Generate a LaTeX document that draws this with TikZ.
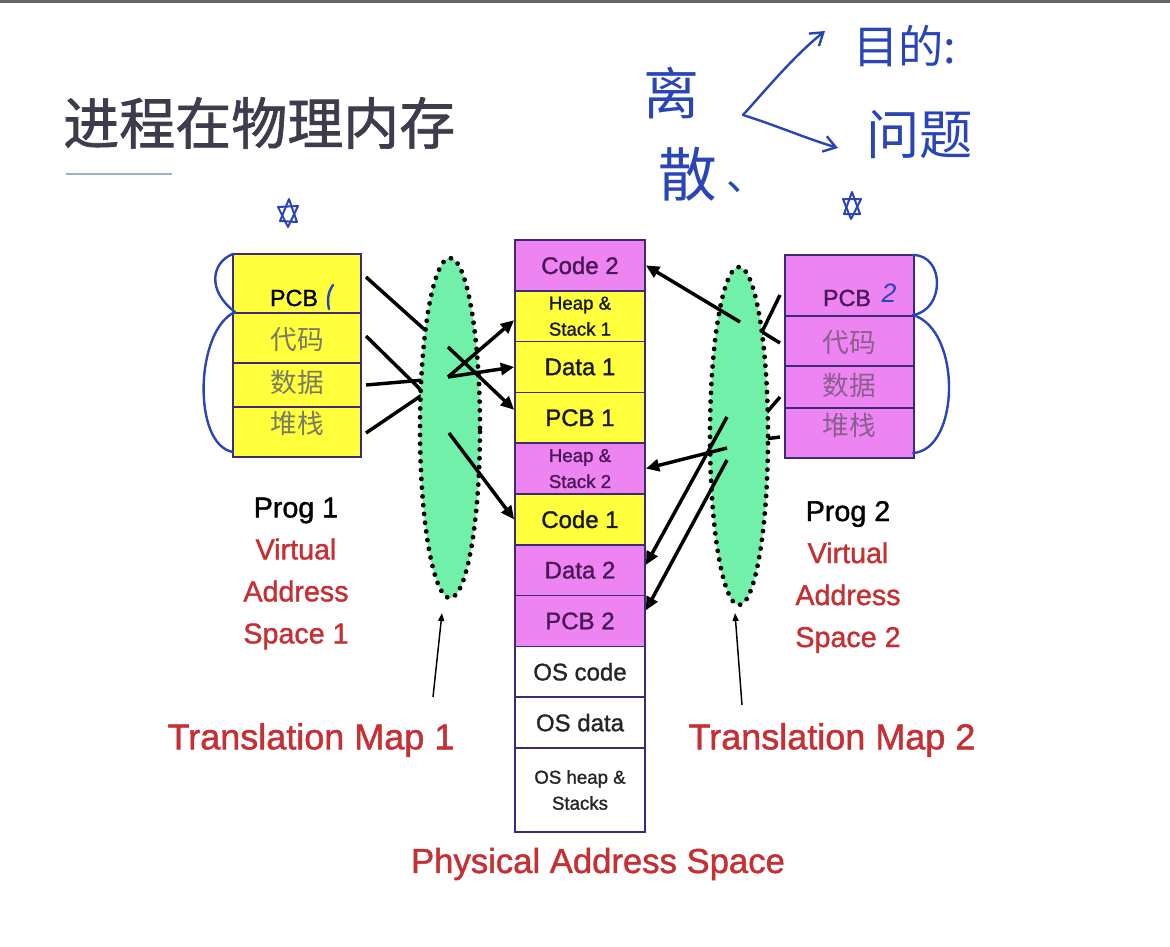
\documentclass[tikz,border=0pt]{standalone}
\usepackage{fontspec}
\setmainfont{Liberation Sans}
\newfontfamily\labfont[FakeBold=1.3]{Liberation Sans}
\newfontfamily\cjk{Noto Sans CJK SC}
\newfontfamily\cjkt[FakeBold=1.2]{Noto Sans CJK SC}
\usetikzlibrary{arrows.meta,shapes.geometric}
\definecolor{yel}{HTML}{FFFF3C}
\definecolor{mag}{HTML}{EE84F2}
\definecolor{bord}{HTML}{3C2A78}
\definecolor{redt}{HTML}{C62F33}
\definecolor{grn}{HTML}{70F0A8}
\definecolor{pen}{HTML}{2A45B8}
\definecolor{magtxt}{HTML}{4A1858}
\definecolor{titlec}{HTML}{3C3C4C}
\definecolor{ygray}{HTML}{7A7A62}
\definecolor{mgray}{HTML}{8A5E90}
\tikzset{
  cell/.style={draw=bord, line width=1.3pt, minimum width=97.5pt, minimum height=38.1pt,
    inner sep=0pt, align=center, font=\labfont\fontsize{18}{20}\selectfont},
  ycell/.style={cell, fill=yel, text=black!90},
  mcell/.style={cell, fill=mag, text=magtxt},
  wcell/.style={cell, fill=white, text=black!85},
  smalltxt/.style={font=\labfont\fontsize{14}{19.5}\selectfont},
  vbox/.style={draw=bord, line width=1.3pt, minimum width=96pt, inner sep=0pt},
  pcbtxt/.style={font=\labfont\fontsize{17.5}{20}\selectfont, inner sep=0pt},
  cntxt/.style={font=\cjk\fontsize{20}{22}\selectfont, inner sep=0pt},
  plabel/.style={align=center, text=redt, font=\labfont\fontsize{21.5}{31.5}\selectfont},
  maplabel/.style={text=redt, font=\labfont\fontsize{27}{30}\selectfont},
  tmap/.style={draw=black, line width=3.6pt, dash pattern=on 0pt off 6.6pt, line cap=round,
    fill=grn, ellipse, inner sep=0pt},
  link/.style={line width=2.6pt, draw=black},
  arr/.style={link, -{Triangle[length=10pt,width=9pt]}},
  thin/.style={line width=1.1pt, -{Triangle[length=6pt,width=4.5pt]}},
  penline/.style={draw=pen, line width=1.8pt, line cap=round, line join=round},
  hand/.style={text=pen, inner sep=0pt},
}
\begin{document}
\begin{tikzpicture}[x=0.75pt,y=-0.75pt]
\useasboundingbox (0,0) rectangle (1170,946);
\fill[white] (0,0) rectangle (1170,946);
\fill[black!60] (0,0) rectangle (1170,2.5);

% title
\node[anchor=west, inner sep=0pt, text=titlec, font=\cjkt\fontsize{42}{46}\selectfont] (title) at (63,123) {进程在物理内存};
\coordinate (ul1) at (66,174);
\coordinate (ul2) at (172,174);
\draw[line width=2.2pt, color={rgb,255:red,154;green,176;blue,204}] (ul1) -- (ul2);

% physical memory column
\node[mcell] (code2) at (580,265.4) {Code 2};
\node[ycell,smalltxt] (hs1) at (580,316.2) {Heap \&\\Stack 1};
\node[ycell] (data1) at (580,367) {Data 1};
\node[ycell] (pcb1) at (580,417.8) {PCB 1};
\node[mcell,smalltxt] (hs2) at (580,468.6) {Heap \&\\Stack 2};
\node[ycell] (code1) at (580,519.4) {Code 1};
\node[mcell] (data2) at (580,570.2) {Data 2};
\node[mcell] (pcb2) at (580,621) {PCB 2};
\node[wcell] (oscode) at (580,671.8) {OS code};
\node[wcell] (osdata) at (580,722.6) {OS data};
\node[wcell,smalltxt,minimum height=63pt] (osheap) at (580,790) {OS heap \&\\Stacks};

% left program box
\node[vbox, fill=yel, minimum height=44.25pt] (lpcb) at (297,283.5) {};
\node[vbox, fill=yel, minimum height=37.5pt] (lcode) at (297,338) {};
\node[vbox, fill=yel, minimum height=33pt] (ldata) at (297,385) {};
\node[vbox, fill=yel, minimum height=37.5pt] (lstack) at (297,432) {};
\node[pcbtxt] (lpcbt) at (294,298) {PCB};
\node[cntxt, text=ygray] (lcodet) at (297,340) {代码};
\node[cntxt, text=ygray] (ldatat) at (297,382) {数据};
\node[cntxt, text=ygray] (lstackt) at (297,423) {堆栈};

% right program box
\node[vbox, fill=mag, minimum width=96.75pt, minimum height=45.75pt] (rpcb) at (849.5,285.5) {};
\node[vbox, fill=mag, minimum width=96.75pt, minimum height=37.5pt] (rcode) at (849.5,341) {};
\node[vbox, fill=mag, minimum width=96.75pt, minimum height=31.5pt] (rdata) at (849.5,387) {};
\node[vbox, fill=mag, minimum width=96.75pt, minimum height=37.5pt] (rstack) at (849.5,433) {};
\node[pcbtxt, text=magtxt] (rpcbt) at (847,298) {PCB};
\node[cntxt, text=mgray] (rcodet) at (849,343) {代码};
\node[cntxt, text=mgray] (rdatat) at (849,385) {数据};
\node[cntxt, text=mgray] (rstackt) at (849,425) {堆栈};

% coordinates for connectors
\coordinate (la1) at (366,277);  \coordinate (lb1) at (425,330);
\coordinate (la2) at (366,336);  \coordinate (lb2) at (424,393);
\coordinate (la3) at (366,385);  \coordinate (lb3) at (424,380);
\coordinate (la4) at (366,433);  \coordinate (lb4) at (422,395);
\coordinate (ra1) at (780,295);  \coordinate (rb1) at (759,338);
\coordinate (ra2) at (780,343);  \coordinate (rb2) at (759,330);
\coordinate (ra3) at (780,397);  \coordinate (rb3) at (756,425);
\coordinate (ra4) at (780,437);  \coordinate (rb4) at (757,440);

\draw[link] (la1) -- (lb1);
\draw[link] (la2) -- (lb2);
\draw[link] (la3) -- (lb3);
\draw[link] (la4) -- (lb4);
\draw[link] (ra1) -- (rb1);
\draw[link] (ra2) -- (rb2);
\draw[link] (ra3) -- (rb3);
\draw[link] (ra4) -- (rb4);

% translation maps
\node[tmap, minimum width=45pt, minimum height=255pt] (map1) at (450,428) {};
\node[tmap, minimum width=43.5pt, minimum height=253.5pt] (map2) at (739,436) {};

% arrows from maps into physical memory
\coordinate (m1a) at (448,377);
\coordinate (m1b) at (448,347);
\coordinate (m1c) at (449,433);
\draw[arr] (m1a) -- ([yshift=-3pt]hs1.west);
\draw[arr] (m1a) -- (data1.west);
\draw[arr] (m1b) -- ([yshift=6pt]pcb1.west);
\draw[arr] (m1c) -- (code1.west);

\coordinate (m2a) at (740,322);
\coordinate (m2b) at (727,417);
\coordinate (m2c) at (727,448);
\coordinate (m2d) at (727,460);
\draw[arr] (m2a) -- (code2.east);
\draw[arr] (m2b) -- ([yshift=4pt]data2.east);
\draw[arr] (m2c) -- (hs2.east);
\draw[arr] (m2d) -- ([yshift=8pt]pcb2.east);

% labels
\node[plabel] (prog1) at (296,573.5) {{\color{black}Prog 1}\\Virtual\\Address\\Space 1};
\node[plabel] (prog2) at (848,577) {{\color{black}Prog 2}\\Virtual\\Address\\Space 2};
\node[maplabel] (tm1) at (311,740) {Translation Map 1};
\node[maplabel] (tm2) at (832,740) {Translation Map 2};
\node[maplabel, font=\labfont\fontsize{26}{30}\selectfont] (phys) at (598,864) {Physical Address Space};

\coordinate (t1a) at (433,697); \coordinate (t1b) at (442,613);
\coordinate (t2a) at (742,705); \coordinate (t2b) at (735,613);
\draw[thin] (t1a) -- (t1b);
\draw[thin] (t2a) -- (t2b);

% handwritten annotations
\draw[penline] (233,254) .. controls (212,262) and (206,290) .. (235,312);
\draw[penline] (235,312) .. controls (195,330) and (192,445) .. (233,452);
\draw[penline] (913,255) .. controls (945,255) and (945,310) .. (913,315);
\draw[penline] (913,315) .. controls (962,330) and (960,450) .. (913,453);
\draw[penline] (333,285) .. controls (328,292) and (327,300) .. (329,309);
\node[hand, font=\fontsize{20}{22}\selectfont\itshape] (two) at (889,293) {2};
% stars
\draw[penline, line width=1.5pt] (280,221) -- (289,199) -- (297,222) -- cycle;
\draw[penline, line width=1.5pt] (278,207) -- (298,206) -- (288,227) -- cycle;
\draw[penline, line width=1.5pt] (844,214) -- (852,192) -- (860,214) -- cycle;
\draw[penline, line width=1.5pt] (843,199) -- (861,199) -- (851,219) -- cycle;
% notes
\node[hand, font=\cjk\fontsize{42}{44}\selectfont] (li) at (671,93) {离};
\node[hand, font=\cjk\fontsize{44}{48}\selectfont] (san) at (688,174) {散};
\node[hand, font=\cjk\fontsize{30}{32}\selectfont] (dun) at (746,187) {、};
\node[hand, font=\cjk\fontsize{34}{38}\selectfont, anchor=west] (mudi) at (853,46) {目的:};
\node[hand, font=\cjk\fontsize{40}{44}\selectfont, anchor=west] (wenti) at (866,135) {问题};
\coordinate (hv) at (743,115);
\coordinate (hu) at (825,31);
\coordinate (hd) at (838,148);
\draw[penline, -{Straight Barb[length=9pt,width=12pt]}] (hv) .. controls (770,85) and (795,55) .. (hu);
\draw[penline, -{Straight Barb[length=9pt,width=12pt]}] (hv) .. controls (775,125) and (805,138) .. (hd);
\end{tikzpicture}
\end{document}
